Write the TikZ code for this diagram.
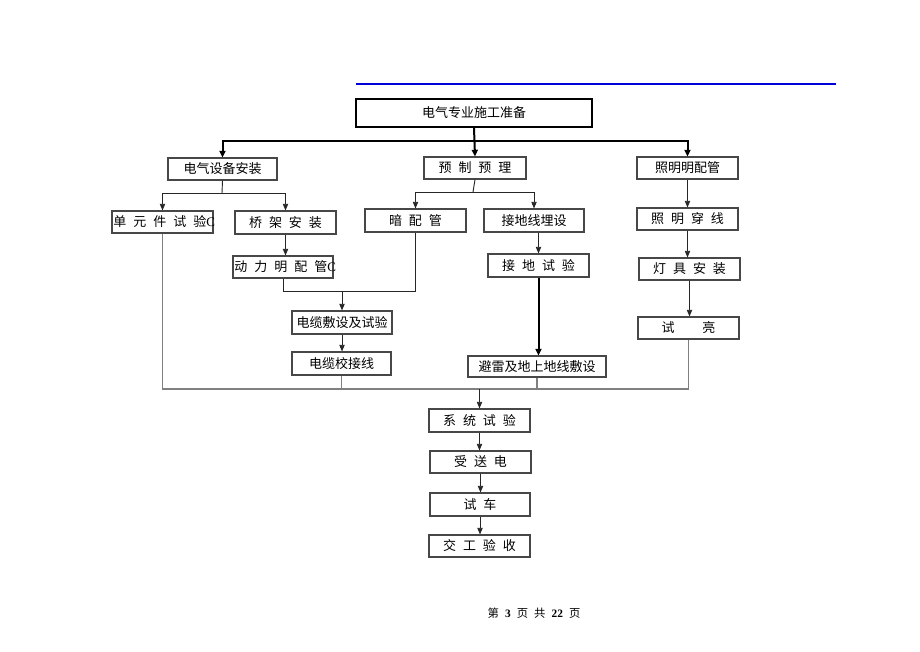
\documentclass[tikz,border=0pt]{standalone}
\usepackage{fontspec}
\setmainfont{Liberation Serif}
\newfontfamily\cjk[WordSpace=2.4]{Noto Sans CJK SC}
\usetikzlibrary{arrows.meta}
\newcommand{\cjkf}{\cjk\fontsize{9.75}{11}\selectfont}
\newcommand{\bx}[7][box]{\node[#1, minimum width={(#4-#2)*0.75pt}, minimum height={(#5-#3)*0.75pt}] (#6) at ({(#2+#4)/2},{(#3+#5)/2}) {#7};}
\tikzset{
  box/.style={draw=black!72, line width=0.8pt, inner sep=0pt, font=\cjkf, text height=8pt, text depth=0.6pt},
  topbox/.style={draw=black, line width=1.6pt, inner sep=0pt, font=\cjkf, text height=8pt, text depth=0.6pt},
  ln/.style={black!85, line width=0.7pt},
  arr/.style={ln, -{Triangle[length=5pt,width=4pt]}},
  thk/.style={black, line width=1.5pt, -{Triangle[length=5pt,width=4.5pt]}},
  busln/.style={black!50, line width=0.8pt},
}
\begin{document}
\begin{tikzpicture}[x=0.75pt,y=-0.75pt]
\useasboundingbox (0,0) rectangle (920,651);
\coordinate (bl1) at (356,84);
\coordinate (bl2) at (836,84);
\draw[blue!85!black, line width=0.8pt] (bl1) -- (bl2);

\bx[topbox]{356}{99}{592}{127}{top}{电气专业施工准备}
\bx{168}{158}{277}{180}{a1}{电气设备安装}
\bx{424}{157}{526}{179}{b1}{预 制 预 理}
\bx{637}{157}{738}{179}{c1}{照明明配管}
\bx{112}{211}{213}{233}{a2}{\makebox[75.75pt][l]{\hspace{1pt}单 元 件 试 验\rmfamily C}}
\bx{235}{211}{336}{234}{a3}{桥 架 安 装}
\bx{233}{256}{333}{278}{a4}{\makebox[75pt][l]{\hspace{1pt}动 力 明 配 管\rmfamily C}}
\bx{365}{209}{466}{232}{b2}{暗 配 管}
\bx{484}{209}{584}{232}{b3}{接地线埋设}
\bx{488}{254}{589}{277}{b4}{接 地 试 验}
\bx{637}{208}{738}{230}{c2}{照 明 穿 线}
\bx{639}{258}{740}{280}{c3}{灯 具 安 装}
\bx{638}{317}{739}{339}{c4}{试~~~~亮}
\bx{292}{311}{392}{334}{m1}{电缆敷设及试验}
\bx{292}{352}{391}{375}{m2}{电缆校接线}
\bx{468}{356}{606}{377}{b5}{避雷及地上地线敷设}
\bx{429}{409}{530}{432}{s1}{系 统 试 验}
\bx{430}{451}{531}{473}{s2}{受 送 电}
\bx{430}{493}{530}{516}{s3}{试 车}
\bx{429}{535}{530}{557}{s4}{交 工 验 收}

\node[font=\cjk\fontsize{8.5}{10}\selectfont, inner sep=0pt, text height=7pt, text depth=0.5pt] (foot) at (534,613) {第 {\rmfamily\bfseries 3} 页 共 {\rmfamily\bfseries 22} 页};

% top level
\coordinate (j0) at (473,141);
\draw[thk] (top.south) -- (b1.north);
\draw[thk] (j0) -| (a1.north);
\draw[thk] (j0) -| (c1.north);

% left branch
\coordinate (j1) at (222,193);
\draw[ln] (a1.south) -- (j1);
\draw[arr] (j1) -| (a2.north);
\draw[arr] (j1) -| (a3.north);
\draw[arr] (a3.south) -- (a3.south |- a4.north);

% middle branch
\coordinate (j2) at (473,192);
\draw[ln] (b1.south) -- (j2);
\draw[arr] (j2) -| (b2.north);
\draw[arr] (j2) -| (b3.north);
\draw[arr] (b4.north |- b3.south) -- (b4.north);
\draw[thk] (b4.south) -- (b4.south |- b5.north);

% merge to cables
\coordinate (j3) at (342,291);
\draw[ln] (a4.south) |- (j3);
\draw[ln] (j3) -| (b2.south);
\draw[arr] (j3) -- (m1.north);
\draw[arr] (m1.south) -- (m1.south |- m2.north);

% right branch
\draw[arr] (c1.south) -- (c1.south |- c2.north);
\draw[arr] (c2.south) -- (c2.south |- c3.north);
\draw[arr] (c3.south) -- (c3.south |- c4.north);

% bus
\coordinate (busy) at (0,389);
\coordinate (busL) at (a2.south |- busy);
\coordinate (busR) at (c4.south |- busy);
\coordinate (busM) at (s1.north |- busy);
\draw[busln] (a2.south) -- (busL) -- (busR) -- (c4.south);
\draw[busln] (m2.south) -- (m2.south |- busy);
\draw[busln] (b5.south) -- (b5.south |- busy);
\draw[arr] (busM) -- (s1.north);

% bottom chain
\draw[arr] (s1.south) -- (s1.south |- s2.north);
\draw[arr] (s2.south) -- (s2.south |- s3.north);
\draw[arr] (s3.south) -- (s3.south |- s4.north);
\end{tikzpicture}
\end{document}
